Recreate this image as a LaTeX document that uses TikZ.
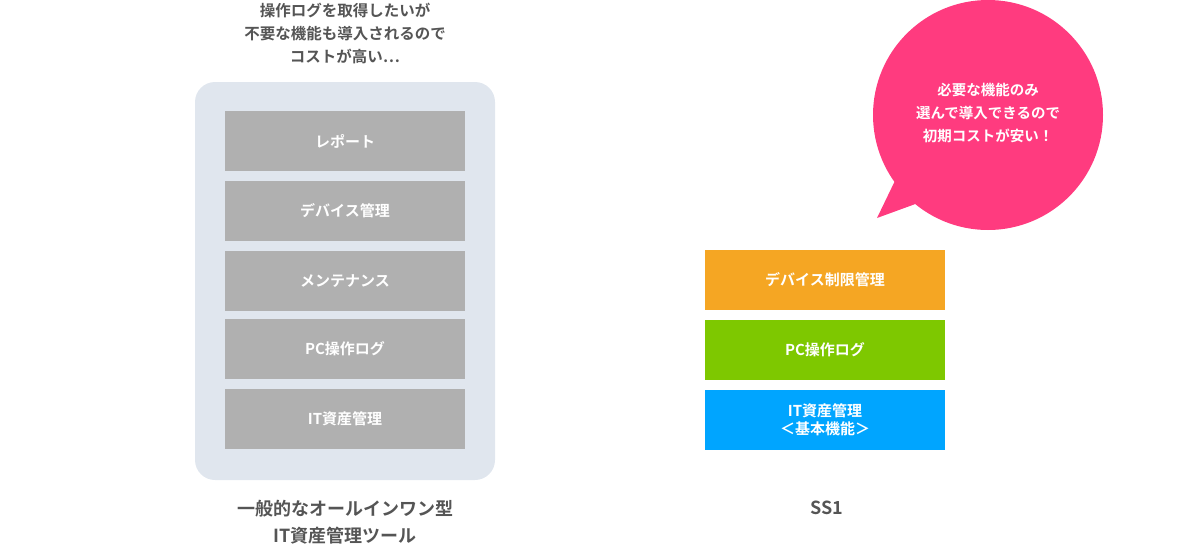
\documentclass[tikz,border=0pt]{standalone}
\usepackage{fontspec}
\setmainfont{Noto Sans CJK JP}[BoldFont={* Bold}]
\definecolor{panel}{HTML}{E0E6EE}
\definecolor{gbox}{HTML}{B0B0B0}
\definecolor{tcol}{HTML}{555555}
\definecolor{org}{HTML}{F5A623}
\definecolor{grn}{HTML}{7EC800}
\definecolor{blu}{HTML}{00A5FF}
\definecolor{pink}{HTML}{FF3B7F}
\begin{document}
\begin{tikzpicture}[x=1pt,y=-1pt,
  fbox/.style={minimum width=240pt,minimum height=60pt,inner sep=0pt,text=white,font=\bfseries\fontsize{15}{18}\selectfont,align=center},
  lbl/.style={text=tcol,font=\bfseries\fontsize{15.5}{23}\selectfont,align=center}]
\useasboundingbox (0,0) rectangle (1200,546);
\fill[panel,rounded corners=20pt] (195,82) rectangle (495,480);
\node[fbox,fill=gbox] (a1) at (345,141) {レポート};
\node[fbox,fill=gbox] (a2) at (345,211) {デバイス管理};
\node[fbox,fill=gbox] (a3) at (345,281) {メンテナンス};
\node[fbox,fill=gbox] (a4) at (345,349) {PC操作ログ};
\node[fbox,fill=gbox] (a5) at (345,419) {IT資産管理};
\node[fbox,fill=org] (b1) at (825,280) {デバイス制限管理};
\node[fbox,fill=grn] (b2) at (825,350) {PC操作ログ};
\node[fbox,fill=blu] (b3) at (825,420) {IT資産管理\\＜基本機能＞};
\node[lbl] (t1) at (345,33) {操作ログを取得したいが\\不要な機能も導入されるので\\コストが高い…};
\node[lbl,font=\bfseries\fontsize{18}{27}\selectfont] (t2) at (345,522) {一般的なオールインワン型\\IT資産管理ツール};
\node[lbl,font=\bfseries\fontsize{18}{27}\selectfont] (t3) at (827,508) {SS1};
\fill[pink] (988,115) circle (115pt);
\fill[pink] (877,218) -- (905,160) -- (940,195) -- cycle;
\node[text=white,font=\bfseries\fontsize{14.5}{23}\selectfont,align=center] (bt) at (988,113) {必要な機能のみ\\選んで導入できるので\\初期コストが安い！};
\end{tikzpicture}
\end{document}
